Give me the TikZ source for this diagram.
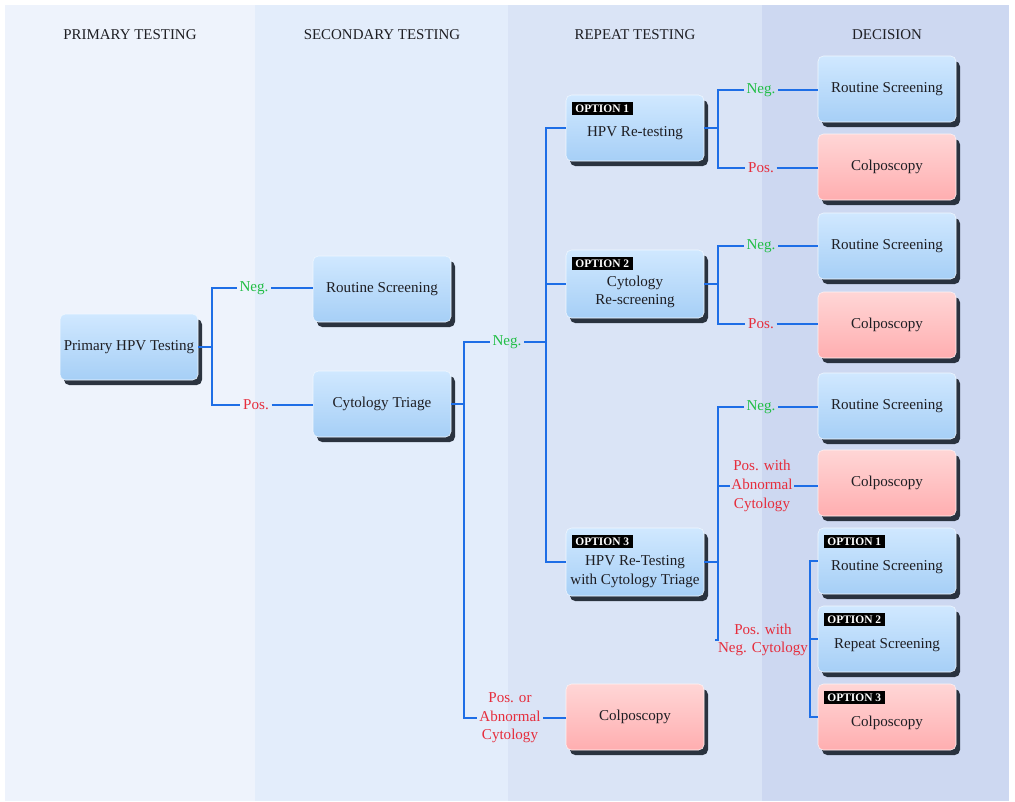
\documentclass[tikz,border=0pt]{standalone}
\usepackage{fontspec}
\setmainfont{Liberation Serif}
\usetikzlibrary{shadows}
\definecolor{colA}{RGB}{238,243,252}
\definecolor{colB}{RGB}{227,237,251}
\definecolor{colC}{RGB}{218,228,246}
\definecolor{colD}{RGB}{205,216,241}
\definecolor{blueTop}{RGB}{208,232,255}
\definecolor{blueBot}{RGB}{166,207,246}
\definecolor{redTop}{RGB}{255,214,214}
\definecolor{redBot}{RGB}{255,174,176}
\definecolor{lineblue}{RGB}{30,110,230}
\definecolor{neggreen}{RGB}{34,190,70}
\definecolor{posred}{RGB}{230,45,60}
\definecolor{shadowc}{RGB}{28,36,48}
\definecolor{txt}{RGB}{30,30,35}
\tikzset{
  boxbase/.style={rounded corners=4pt, minimum width=103.5pt, minimum height=49.5pt,
    inner sep=1pt, align=center, text=txt, font=\fontsize{11.3}{13}\selectfont,
    drop shadow={shadow xshift=3pt, shadow yshift=-3.8pt, fill=shadowc, opacity=0.92}},
  bluebox/.style={boxbase, top color=blueTop, bottom color=blueBot, draw=white!70!blueTop, line width=0.4pt},
  redbox/.style={boxbase, top color=redTop, bottom color=redBot, draw=white!70!redTop, line width=0.4pt},
  boxtext/.style={align=center, text=txt, font=\fontsize{11.3}{14}\selectfont, inner sep=0pt},
  badge/.style={fill=black, text=white, font=\fontsize{8.6}{9}\selectfont\bfseries, inner xsep=2.5pt, inner ysep=2.2pt, anchor=north west},
  conn/.style={draw=lineblue, line width=1.8pt},
  neglab/.style={text=neggreen, font=\fontsize{11.3}{13}\selectfont, inner sep=2pt},
  poslab/.style={text=posred, font=\fontsize{11.3}{14}\selectfont, inner sep=2pt, align=center},
  header/.style={text=txt, font=\fontsize{11.2}{12}\selectfont}
}
\begin{document}
\begin{tikzpicture}[x=0.75pt,y=-0.75pt]
\useasboundingbox (0,0) rectangle (1015,801);
\fill[white] (0,0) rectangle (1015,801);
\fill[colA] (5,5) rectangle (255,801);
\fill[colB] (255,5) rectangle (508,801);
\fill[colC] (508,5) rectangle (762,801);
\fill[colD] (762,5) rectangle (1009,801);

\node[header] (h1) at (130,35) {PRIMARY TESTING};
\node[header] (h2) at (382,35) {SECONDARY TESTING};
\node[header] (h3) at (635,35) {REPEAT TESTING};
\node[header] (h4) at (887,35) {DECISION};

% primary / secondary
\node[bluebox] (prim) at (129,347) {Primary HPV Testing};
\node[bluebox] (rs0) at (382,289) {Routine Screening};
\node[bluebox] (cyt) at (382,404) {Cytology Triage};

% repeat testing
\node[bluebox] (o1) at (635,128) {};
\node[badge] (b1) at ([xshift=4.5pt,yshift=-5pt]o1.north west) {OPTION 1};
\node[boxtext] (t1) at ([yshift=-3.5pt]o1.center) {HPV Re-testing};
\node[bluebox, minimum height=51pt] (o2) at (635,284) {};
\node[badge] (b2) at ([xshift=4.5pt,yshift=-5pt]o2.north west) {OPTION 2};
\node[boxtext] (t2) at ([yshift=-6pt]o2.center) {Cytology\\Re-screening};
\node[bluebox, minimum height=51pt] (o3) at (635,562) {};
\node[badge] (b3) at ([xshift=4.5pt,yshift=-5pt]o3.north west) {OPTION 3};
\node[boxtext] (t3) at ([yshift=-7pt]o3.center) {HPV Re-Testing\\with Cytology Triage};
\node[redbox] (cb) at (635,717) {Colposcopy};

% decision
\node[bluebox] (d1) at (887,89) {Routine Screening};
\node[redbox] (d2) at (887,167) {Colposcopy};
\node[bluebox] (d3) at (887,246) {Routine Screening};
\node[redbox] (d4) at (887,325) {Colposcopy};
\node[bluebox] (d5) at (887,406) {Routine Screening};
\node[redbox] (d6) at (887,483) {Colposcopy};
\node[bluebox] (d7) at (887,561) {};
\node[badge] (b7) at ([xshift=4.5pt,yshift=-5pt]d7.north west) {OPTION 1};
\node[boxtext] (t7) at ([yshift=-4.5pt]d7.center) {Routine Screening};
\node[bluebox] (d8) at (887,639) {};
\node[badge] (b8) at ([xshift=4.5pt,yshift=-5pt]d8.north west) {OPTION 2};
\node[boxtext] (t8) at ([yshift=-4.5pt]d8.center) {Repeat Screening};
\node[redbox] (d9) at (887,717) {};
\node[badge] (b9) at ([xshift=4.5pt,yshift=-5pt]d9.north west) {OPTION 3};
\node[boxtext] (t9) at ([yshift=-4.5pt]d9.center) {Colposcopy};

% labels
\node[neglab] (n1) at (254,288) {Neg.};
\node[poslab] (p1) at (256,405) {Pos.};
\node[neglab] (n2) at (507,342) {Neg.};
\node[poslab] (p2) at (510,718) {Pos. or\\Abnormal\\Cytology};
\node[neglab] (n3) at (761,90) {Neg.};
\node[poslab] (p3) at (761,168) {Pos.};
\node[neglab] (n4) at (761,246) {Neg.};
\node[poslab] (p4) at (761,324) {Pos.};
\node[neglab] (n5) at (761,407) {Neg.};
\node[poslab, inner sep=0pt] (p5) at (762,486) {Pos. with\\Abnormal\\Cytology};
\node[poslab, inner sep=0pt] (p6) at (763,640) {Pos. with\\Neg. Cytology};

% junction coordinates
\coordinate (j1) at (212,347);
\coordinate (j2) at (464,404);
\coordinate (j3) at (546,342);
\coordinate (j4) at (718,128);
\coordinate (j5) at (718,284);
\coordinate (j6) at (718,562);
\coordinate (j7) at (810,639);

% connectors
\draw[conn] (prim.east) -- (j1);
\draw[conn] (j1) |- (n1.west);
\draw[conn] (j1) |- (p1.west);
\draw[conn] (n1.east) -- (n1.east -| rs0.west);
\draw[conn] (p1.east) -- (p1.east -| cyt.west);

\draw[conn] (cyt.east) -- (j2);
\draw[conn] (j2) |- (n2.west);
\draw[conn] (j2) |- (p2.west);
\draw[conn] (n2.east) -- (j3);
\draw[conn] (p2.east) -- (p2.east -| cb.west);
\draw[conn] (j3) |- (o1.west);
\draw[conn] (j3) |- (o2.west);
\draw[conn] (j3) |- (o3.west);

\draw[conn] (o1.east) -- (j4);
\draw[conn] (j4) |- (n3.west);
\draw[conn] (j4) |- (p3.west);
\draw[conn] (n3.east) -- (n3.east -| d1.west);
\draw[conn] (p3.east) -- (p3.east -| d2.west);

\draw[conn] (o2.east) -- (j5);
\draw[conn] (j5) |- (n4.west);
\draw[conn] (j5) |- (p4.west);
\draw[conn] (n4.east) -- (n4.east -| d3.west);
\draw[conn] (p4.east) -- (p4.east -| d4.west);

\draw[conn] (o3.east) -- (j6);
\draw[conn] (j6) |- (n5.west);
\draw[conn] (j6) |- ([xshift=-1pt]p5.west);
\draw[conn] (j6) |- ([xshift=-2pt]p6.west);
\draw[conn] (n5.east) -- (n5.east -| d5.west);
\draw[conn] ([xshift=1pt]p5.east) -- (p5.east -| d6.west);
\draw[conn] ([xshift=2pt]p6.east |- j7) -- (j7 -| d8.west);
\draw[conn] (d7.west) -| (j7);
\draw[conn] (j7) |- (d9.west);
\end{tikzpicture}
\end{document}
